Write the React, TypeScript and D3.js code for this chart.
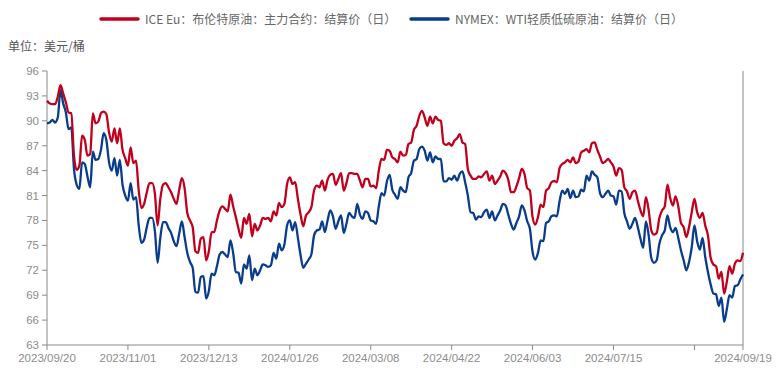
import * as d3 from "d3"

// trading days (ICE calendar): weekdays minus exchange holidays
const startDay = "2023-09-20"
const endDay = "2024-09-19"
const holidays = ["2023-12-25", "2024-01-01", "2024-03-29"]

const brent = [
  92.4, 92.1, 92.0, 92.0, 92.9, 94.3, 93.3, 92.2, 91.0, 90.9,
  85.8, 84.1, 84.6, 88.2, 87.7, 85.8, 86.0, 90.9, 89.7, 89.9,
  90.9, 91.1, 90.8, 88.6, 87.5, 89.1, 87.3, 89.1, 86.5, 85.5,
  84.6, 86.8, 84.9, 85.2, 81.6, 79.5, 80.0, 81.4, 82.5, 82.5,
  81.2, 77.4, 80.6, 82.3, 82.5, 82.0, 81.4, 80.6, 80.0, 81.7,
  83.1, 81.9, 78.9, 78.0, 77.2, 74.3, 74.1, 75.8, 76.0, 73.2,
  74.3, 76.6, 76.6, 78.0, 79.2, 79.7, 79.4, 79.1, 81.1, 79.7,
  78.4, 77.0, 75.9, 78.3, 77.6, 78.8, 76.1, 77.6, 76.8, 77.4,
  78.3, 78.2, 78.3, 77.9, 79.1, 78.6, 80.1, 79.6, 80.0, 82.4,
  83.2, 82.4, 82.6, 80.6, 78.7, 77.3, 78.6, 79.0, 79.6, 81.6,
  82.2, 82.0, 82.8, 81.6, 82.9, 83.5, 83.6, 82.3, 83.0, 83.7,
  81.6, 82.5, 83.7, 83.7, 83.6, 83.6, 82.8, 82.0, 83.0, 83.0,
  82.1, 82.2, 81.9, 84.0, 85.4, 85.3, 86.5, 86.4, 85.6, 85.4,
  85.0, 86.3, 85.8, 85.9, 87.2, 87.4, 88.9, 89.4, 90.6, 91.2,
  90.4, 89.4, 90.5, 89.7, 90.5, 90.1, 90.0, 87.3, 87.1, 87.3,
  87.0, 87.6, 87.9, 88.4, 87.4, 87.2, 84.2, 83.4, 83.0, 83.0,
  83.3, 83.2, 83.6, 83.9, 82.8, 83.4, 82.4, 82.8, 83.3, 84.0,
  83.7, 82.9, 81.4, 81.4, 82.1, 83.1, 84.2, 83.6, 81.9, 81.6,
  78.4, 77.5, 78.4, 79.9, 79.6, 81.6, 81.9, 82.6, 82.75, 82.6,
  84.3, 84.8, 85.0, 85.3, 85.0, 85.6, 84.9, 85.1, 86.2, 86.4,
  86.6, 86.2, 87.3, 87.4, 86.5, 85.7, 84.9, 85.1, 85.4, 85.0,
  84.5, 83.4, 84.3, 84.1, 82.0, 81.5, 80.6, 81.4, 81.6, 80.4,
  79.2, 78.5, 80.8, 79.3, 76.8, 76.3, 76.5, 78.3, 79.2, 79.7,
  82.3, 80.7, 79.8, 80.9, 79.7, 77.7, 77.2, 76.0, 77.2, 79.0,
  80.6, 79.0, 78.3, 78.9, 77.4, 76.2, 73.5, 72.7, 72.5, 71.0,
  71.8, 69.2, 70.6, 72.5, 71.6, 72.8, 73.2, 73.1, 74.1,
]

const wti = [
  89.7, 89.8, 90.1, 89.8, 90.4, 93.7, 92.1, 91.0, 89.0, 89.2,
  84.2, 82.3, 81.8, 85.0, 84.8, 83.3, 82.0, 86.3, 85.3, 85.4,
  86.5, 88.5, 87.7, 85.0, 84.0, 85.5, 83.4, 85.3, 82.3, 81.0,
  80.4, 82.5, 80.5, 80.8, 77.4, 75.3, 75.7, 77.2, 78.3, 78.3,
  76.7, 72.9, 75.9, 77.8, 77.8, 77.1, 76.5, 75.5, 74.9, 76.4,
  77.9, 76.0, 74.1, 73.0, 72.3, 69.4, 69.3, 71.2, 71.3, 68.6,
  69.5, 71.6, 71.4, 72.5, 73.9, 74.2, 73.9, 73.6, 75.6, 74.1,
  71.8, 71.7, 70.4, 72.7, 72.2, 73.8, 70.8, 72.2, 71.4, 72.0,
  72.7, 72.6, 72.4, 72.6, 74.1, 73.4, 75.2, 74.4, 75.1, 77.4,
  78.0, 76.8, 77.8, 75.9, 73.8, 72.3, 72.8, 73.3, 73.9, 76.2,
  76.8, 76.9, 77.9, 76.6, 78.0, 79.2, 78.5, 77.0, 77.9, 78.6,
  76.5, 77.6, 78.9, 78.5, 78.3, 80.0, 78.7, 78.2, 79.1, 78.9,
  78.0, 77.9, 77.6, 79.7, 81.3, 81.0, 82.7, 83.5, 81.7, 81.1,
  80.6, 82.0, 81.6, 81.4, 83.2, 83.7, 85.2, 85.4, 86.6, 86.9,
  86.4, 85.2, 86.2, 85.0, 85.7, 85.4, 85.4, 82.7, 82.7, 83.1,
  82.9, 83.4, 82.8, 83.6, 83.9, 82.6, 81.0, 79.0, 78.9, 78.1,
  78.5, 78.4, 79.0, 79.3, 78.3, 79.1, 78.0, 78.6, 79.2, 80.0,
  79.8, 78.7, 77.6, 76.9, 77.7, 78.5, 79.8, 79.2, 77.9, 77.0,
  74.2, 73.3, 74.1, 75.6, 75.5, 77.7, 77.9, 78.5, 78.6, 78.5,
  80.3, 81.6, 81.2, 81.8, 80.7, 81.6, 80.8, 80.9, 81.7, 81.5,
  83.4, 82.8, 83.9, 83.5, 83.2, 81.3, 80.8, 81.2, 81.6, 81.0,
  80.9, 79.9, 81.6, 81.5, 78.9, 77.9, 77.0, 77.6, 78.3, 77.2,
  75.8, 74.7, 77.9, 76.3, 73.5, 72.9, 73.2, 75.2, 76.2, 76.8,
  78.6, 77.2, 76.6, 77.1, 75.9, 74.4, 73.2, 72.0, 73.0, 74.8,
  77.4, 75.5, 74.5, 75.9, 73.6, 71.8, 70.3, 69.2, 69.1, 67.7,
  68.7, 65.8, 67.3, 69.0, 68.7, 70.1, 70.2, 70.9, 71.5,
]

const yTicks = [63, 66, 69, 72, 75, 78, 81, 84, 87, 90, 93, 96]
const tickEvery = 30

const seriesNames = [
  "ICE Eu：布伦特原油：主力合约：结算价（日）",
  "NYMEX：WTI轻质低硫原油：结算价（日）",
]
const unitLabel = "单位：美元/桶"

const RED = "#c0001c"
const BLUE = "#093c8c"
const AXIS = "#8a8a8a"
const LABEL = "#8c8c8c"

function tradingDays(): string[] {
  const out: string[] = []
  const d = new Date(startDay + "T00:00:00Z")
  const end = new Date(endDay + "T00:00:00Z")
  while (d <= end) {
    const iso = d.toISOString().slice(0, 10)
    const wd = d.getUTCDay()
    if (wd !== 0 && wd !== 6 && !holidays.includes(iso)) out.push(iso.replace(/-/g, "/"))
    d.setUTCDate(d.getUTCDate() + 1)
  }
  return out
}

export default function App() {
  const width = 778
  const height = 372
  const m = { left: 47, right: 35, top: 71, bottom: 27 }
  const dates = tradingDays()

  const x = d3.scalePoint<string>().domain(dates).range([m.left, width - m.right])
  const y = d3.scaleLinear().domain([63, 96]).range([height - m.bottom, m.top])

  const line = d3.line<number>()
    .x((_, i) => x(dates[i]) as number)
    .y((v) => y(v))
    .curve(d3.curveMonotoneX)

  const tickIdx = d3.range(0, dates.length, tickEvery)
  const last = dates.length - 1
  const font = "'Liberation Sans', Arial, sans-serif"
  const cjk = "'Noto Sans CJK SC', 'Liberation Sans', sans-serif"

  return (
    <svg width={width} height={height} style={{ position: "absolute", left: 0, top: 0, background: "#fff" }}>
      {/* legend */}
      <line x1={101} x2={138} y1={19} y2={19} stroke={RED} strokeWidth={3.5} strokeLinecap="round" />
      <text x={145} y={23.5} fontSize={12} fill="#666" fontFamily={cjk}>{seriesNames[0]}</text>
      <line x1={411} x2={448} y1={19} y2={19} stroke={BLUE} strokeWidth={3.5} strokeLinecap="round" />
      <text x={455} y={23.5} fontSize={12} fill="#666" fontFamily={cjk}>{seriesNames[1]}</text>

      <text x={8} y={51} fontSize={12} fill="#555" fontFamily={cjk}>{unitLabel}</text>

      {/* y axis */}
      <line x1={m.left} x2={m.left} y1={y(96)} y2={y(63)} stroke={AXIS} />
      {yTicks.map((t) => (
        <g key={t}>
          <line x1={m.left - 5} x2={m.left} y1={y(t)} y2={y(t)} stroke={AXIS} />
          <text x={m.left - 8} y={y(t)} dy="0.35em" textAnchor="end" fontSize={11.5} fill={LABEL} fontFamily={font}>{t}</text>
        </g>
      ))}

      {/* right border */}
      <line x1={x(dates[last])} x2={x(dates[last])} y1={y(96)} y2={y(63)} stroke={AXIS} />

      {/* x axis */}
      <line x1={m.left} x2={x(dates[last])} y1={y(63)} y2={y(63)} stroke={AXIS} />
      {[...tickIdx, last].map((i) => (
        <line key={"t" + i} x1={x(dates[i])} x2={x(dates[i])} y1={y(63)} y2={y(63) + 5} stroke={AXIS} />
      ))}
      {tickIdx.filter((i) => last - i > tickEvery * 0.9).concat([last]).map((i) => (
        <text key={"l" + i} x={x(dates[i])} y={y(63) + 17} textAnchor="middle" fontSize={11.5} fill={LABEL} fontFamily={font}>
          {dates[i]}
        </text>
      ))}

      <path d={line(wti) ?? ""} fill="none" stroke={BLUE} strokeWidth={2.3} strokeLinejoin="round" />
      <path d={line(brent) ?? ""} fill="none" stroke={RED} strokeWidth={2.3} strokeLinejoin="round" />
    </svg>
  )
}
